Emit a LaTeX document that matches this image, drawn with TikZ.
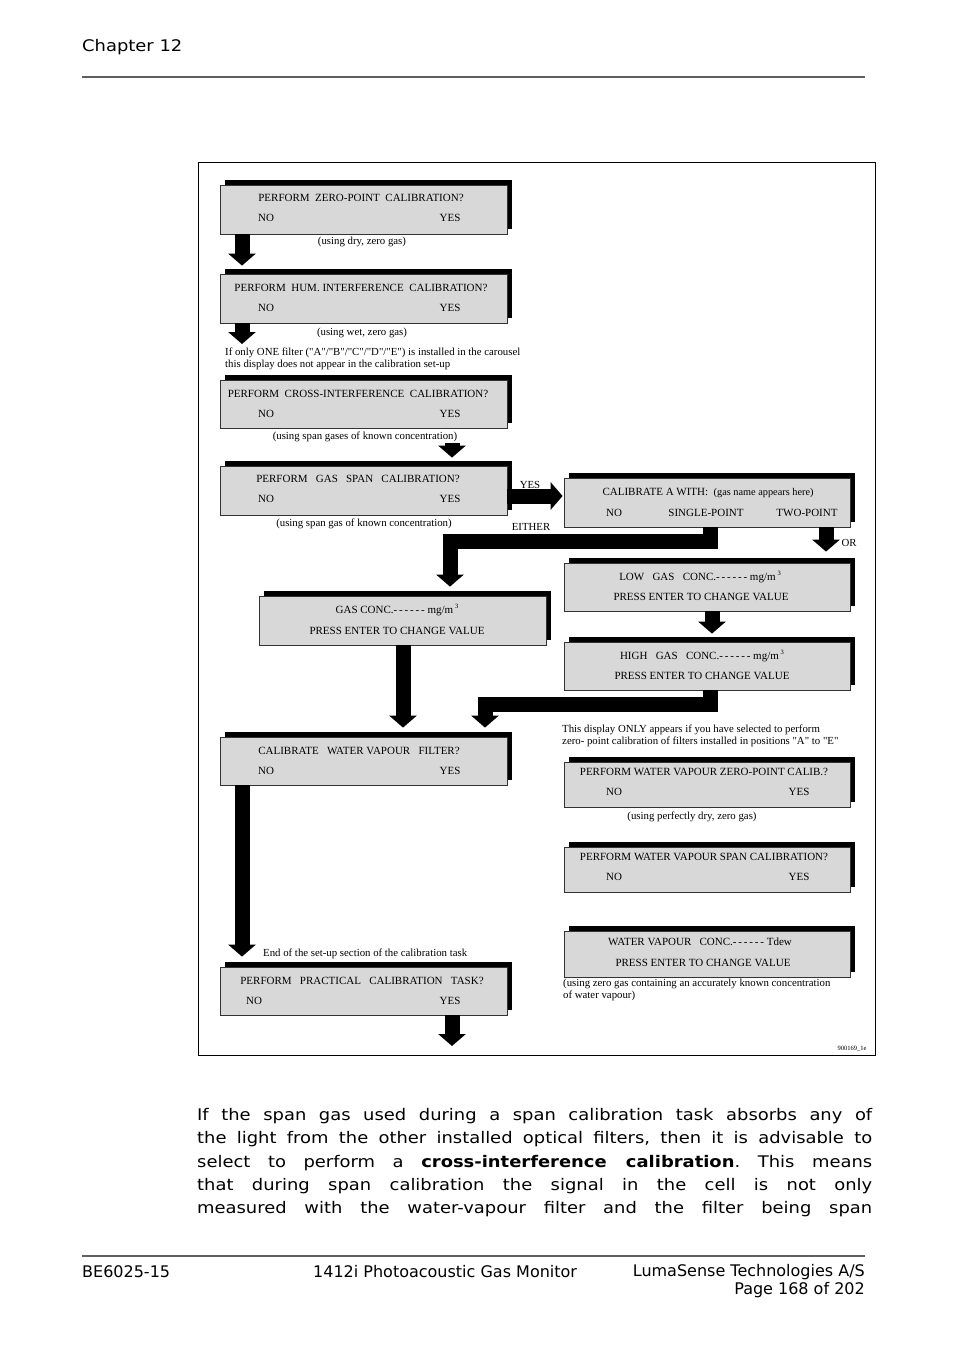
\documentclass[tikz,border=0pt]{standalone}
\usepackage{fontspec}
\setmainfont{Liberation Serif}
\newfontfamily\pagefont{DejaVu Sans}[FakeStretch=1.12]
\newfontfamily\footfont{DejaVu Sans}
\usepackage{xcolor}
\usepackage{tikz}
\usetikzlibrary{arrows.meta,positioning,calc,shadows}
\definecolor{panelGray}{RGB}{216,216,216}
\definecolor{ruleGray}{RGB}{95,95,95}
\newcommand{\cubed}{\,\raisebox{5.5pt}{\fontsize{6.5}{6.5}\selectfont 3}}
\newcommand{\blanks}{-\,-\,-\,-\,-\,-}
\newcommand{\qd}[1]{\textquotedbl#1\textquotedbl}
\frenchspacing

\begin{document}
\begin{tikzpicture}[x=1pt, y=-1pt,
    panel/.style={draw=black!80, fill=panelGray, line width=0.8pt, inner sep=0pt,
        minimum width=287pt, minimum height=49pt,
        drop shadow={fill=black, opacity=1, shadow xshift=4.5pt, shadow yshift=5.5pt}},
    disp/.style={font=\fontsize{11}{13}\selectfont, inner sep=0pt},
    note/.style={font=\fontsize{10.8}{12}\selectfont, inner sep=0pt, align=left},
    body/.style={font=\pagefont\fontsize{16}{19}\selectfont, inner sep=0pt, anchor=west},
    foot/.style={font=\footfont\fontsize{16}{18}\selectfont, inner sep=0pt},
    flow/.style={line width=15pt, -{Triangle[width=27pt,length=12pt]}}]
    \useasboundingbox (0,0) rectangle (954,1350);

    % page header and footer
    \node[body] (chapter) at (82,47) {Chapter 12};
    \draw[ruleGray, line width=1.2pt] (82,77) -- (865,77);
    \draw[ruleGray, line width=1.2pt] (82,1256) -- (865,1256);
    \node[foot, anchor=west] (docno) at (82,1272) {BE6025-15};
    \node[foot, anchor=west] (product) at (313,1272) {1412i Photoacoustic Gas Monitor};
    \node[foot, anchor=east] (company) at (865,1272) {LumaSense Technologies A/S};
    \node[foot, anchor=east] (pageno) at (865,1290) {Page 168 of 202};

    % figure frame
    \draw[line width=1pt] (198,162) rectangle (875,1055);

    % left column displays
    \node[panel] (zero) at (363.5,209.5) {};
    \node[disp] (zero-q) at (361,198) {PERFORM\ \ ZERO-POINT\ \ CALIBRATION?};
    \node[disp, anchor=west] (zero-no) at (258,218) {NO};
    \node[disp] (zero-yes) at (450,218) {YES};
    \node[note] (zero-n) at (362,242) {(using dry, zero gas)};

    \node[panel] (hum) at (363.5,298.5) {};
    \node[disp] (hum-q) at (361,288) {PERFORM\ \ HUM. INTERFERENCE\ \ CALIBRATION?};
    \node[disp, anchor=west] (hum-no) at (258,308) {NO};
    \node[disp] (hum-yes) at (450,308) {YES};
    \node[note] (hum-n) at (362,333) {(using wet, zero gas)};
    \node[note, anchor=north west] (onefilter) at (225,348) {If only ONE filter (\qd{A}/\qd{B}/\qd{C}/\qd{D}/\qd{E}) is installed in the carousel\\this display does not appear in the calibration set-up};
    \coordinate (humout) at (242,344);

    \node[panel, minimum height=48pt] (cross) at (363.5,404) {};
    \node[disp] (cross-q) at (358,394) {PERFORM\ \ CROSS-INTERFERENCE\ \ CALIBRATION?};
    \node[disp, anchor=west] (cross-no) at (258,414) {NO};
    \node[disp] (cross-yes) at (450,414) {YES};
    \node[note] (cross-n) at (365,437) {(using span gases of known concentration)};

    \node[panel] (span) at (363.5,490.5) {};
    \node[disp] (span-q) at (358,479) {PERFORM\ \ \ GAS\ \ \ SPAN\ \ \ CALIBRATION?};
    \node[disp, anchor=west] (span-no) at (258,499) {NO};
    \node[disp] (span-yes) at (450,499) {YES};
    \node[note] (span-n) at (364,524) {(using span gas of known concentration)};
    \node[note] (yes-lbl) at (530,485) {YES};
    \node[note] (either-lbl) at (531,527) {EITHER};

    \node[panel] (single) at (402.5,620.5) {};
    \node[disp] (single-q) at (397,610) {GAS CONC.\blanks\ mg/m\cubed};
    \node[disp] (single-p) at (397,631) {PRESS ENTER TO CHANGE VALUE};

    \node[panel, minimum height=48pt] (vapour) at (363.5,761) {};
    \node[disp] (vapour-q) at (359,751) {CALIBRATE\ \ \ WATER VAPOUR\ \ \ FILTER?};
    \node[disp, anchor=west] (vapour-no) at (258,771) {NO};
    \node[disp] (vapour-yes) at (450,771) {YES};
    \node[note, anchor=west] (setup-end) at (263,954) {End of the set-up section of the calibration task};

    \node[panel, minimum height=48pt] (practical) at (363.5,991) {};
    \node[disp] (practical-q) at (362,981) {PERFORM\ \ \ PRACTICAL\ \ \ CALIBRATION\ \ \ TASK?};
    \node[disp, anchor=west] (practical-no) at (246,1001) {NO};
    \node[disp] (practical-yes) at (450,1001) {YES};
    \coordinate (practicalout) at (452,1046);

    % right column displays
    \node[panel, minimum width=286pt] (calib) at (707,502.5) {};
    \node[disp] (calib-q) at (708,493) {CALIBRATE A WITH:\ \ {\fontsize{10.3}{12}\selectfont(gas name appears here)}};
    \node[disp] (calib-no) at (614,513) {NO};
    \node[disp] (calib-one) at (706,513) {SINGLE-POINT};
    \node[disp] (calib-two) at (807,513) {TWO-POINT};
    \node[note] (or-lbl) at (849,543) {OR};

    \node[panel, minimum width=286pt, minimum height=48pt] (low) at (707,587) {};
    \node[disp] (low-q) at (700,577) {LOW\ \ \ GAS\ \ \ CONC.\blanks\ mg/m\cubed};
    \node[disp] (low-p) at (701,597) {PRESS ENTER TO CHANGE VALUE};

    \node[panel, minimum width=286pt, minimum height=48pt] (high) at (707,666) {};
    \node[disp] (high-q) at (702,656) {HIGH\ \ \ GAS\ \ \ CONC.\blanks\ mg/m\cubed};
    \node[disp] (high-p) at (702,676) {PRESS ENTER TO CHANGE VALUE};

    \node[note, anchor=north west] (wv-info) at (562,725) {This display ONLY appears if you have selected to perform\\zero- point calibration of filters installed in positions \qd{A} to \qd{E}};

    \node[panel, minimum width=286pt, minimum height=45pt] (wvzero) at (707,784.5) {};
    \node[disp] (wvzero-q) at (704,772) {PERFORM WATER VAPOUR ZERO-POINT CALIB.?};
    \node[disp] (wvzero-no) at (614,792) {NO};
    \node[disp] (wvzero-yes) at (799,792) {YES};
    \node[note] (wvzero-n) at (692,817) {(using perfectly dry, zero gas)};

    \node[panel, minimum width=286pt, minimum height=45pt] (wvspan) at (707,869.5) {};
    \node[disp] (wvspan-q) at (704,857) {PERFORM WATER VAPOUR SPAN CALIBRATION?};
    \node[disp] (wvspan-no) at (614,877) {NO};
    \node[disp] (wvspan-yes) at (799,877) {YES};

    \node[panel, minimum width=286pt, minimum height=46pt] (wvconc) at (707,954) {};
    \node[disp] (wvconc-q) at (700,942) {WATER VAPOUR\ \ \ CONC.\blanks\ Tdew};
    \node[disp] (wvconc-p) at (703,963) {PRESS ENTER TO CHANGE VALUE};
    \node[note, anchor=north west] (wvconc-n) at (563,979) {(using zero gas containing an accurately known concentration\\of water vapour)};

    \node[font=\fontsize{6.5}{7}\selectfont, inner sep=0pt] (figid) at (852,1049) {900169\_1e};

    % block arrows
    \draw[flow] ([xshift=-121.5pt]zero.south) -- ([xshift=-121.5pt,yshift=8pt]hum.north);
    \draw[flow] ([xshift=-121.5pt]hum.south) -- (humout);
    \draw[flow] ([xshift=88.5pt,yshift=-15pt]cross.south) -- ([xshift=88.5pt,yshift=8pt]span.north);
    \draw[flow] ([yshift=-5.5pt]span.east) -- ([yshift=6.5pt,xshift=-1pt]calib.west);
    \draw[flow] ([xshift=3pt]calib.south) -- ++(0,14) -| ([xshift=47.5pt,yshift=9pt]single.north);
    \draw[flow] ([xshift=119pt]calib.south) -- ([xshift=119pt,yshift=11pt]low.north);
    \draw[flow] ([xshift=5pt]low.south) -- ([xshift=5pt,yshift=8pt]high.north);
    \draw[flow] ([xshift=3pt]high.south) -- ++(0,14) -| ([xshift=121.5pt,yshift=9pt]vapour.north);
    \draw[flow] ([xshift=0.5pt]single.south) -- ([xshift=39.5pt,yshift=9pt]vapour.north);
    \draw[flow] ([xshift=-121.5pt]vapour.south) -- ([xshift=-121.5pt,yshift=10pt]practical.north);
    \draw[flow] ([xshift=88.5pt]practical.south) -- (practicalout);

    % body text
    \node[body] (line1) at (197,1116) {\makebox[675pt][s]{If the span gas used during a span calibration task absorbs any of}};
    \node[body] (line2) at (197,1139) {\makebox[675pt][s]{the light from the other installed optical filters, then it is advisable to}};
    \node[body] (line3) at (197,1163) {\makebox[675pt][s]{select to perform a \textbf{cross-interference calibration}. This means}};
    \node[body] (line4) at (197,1186) {\makebox[675pt][s]{that during span calibration the signal in the cell is not only}};
    \node[body] (line5) at (197,1209) {\makebox[675pt][s]{measured with the water-vapour filter and the filter being span}};
\end{tikzpicture}
\end{document}
